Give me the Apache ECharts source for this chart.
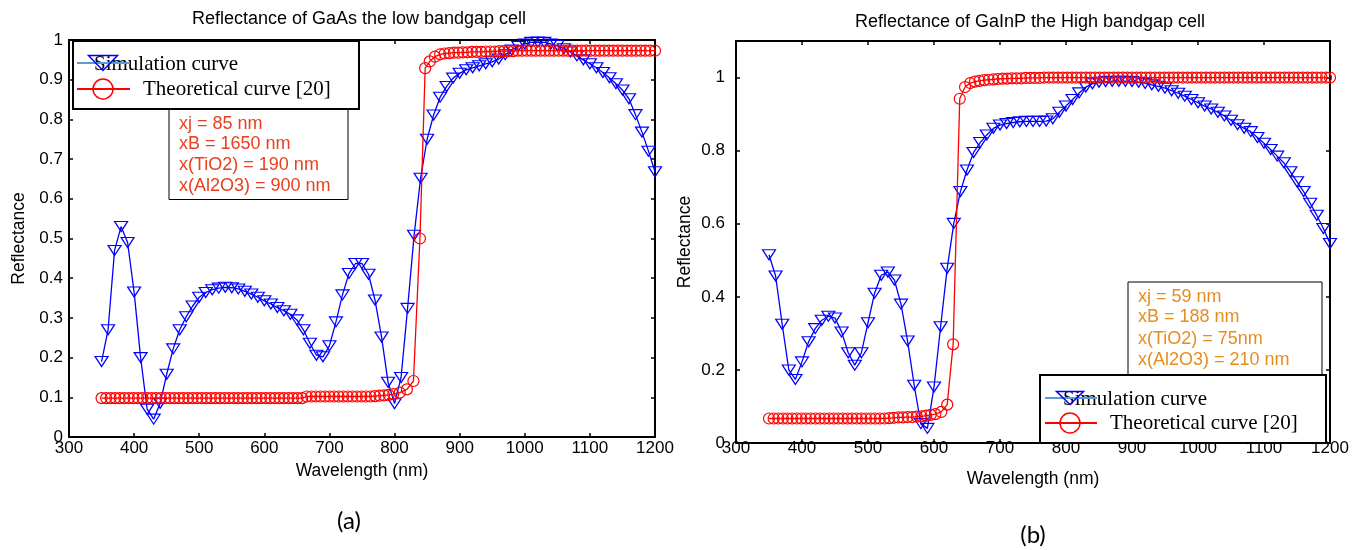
<!DOCTYPE html>
<html>
<head>
<meta charset="utf-8">
<script src="https://cdn.jsdelivr.net/npm/echarts@6/dist/echarts.min.js"></script>
<style>
html,body{margin:0;padding:0;background:#fff;}
#c{width:1363px;height:550px;}
</style>
</head>
<body>
<div id="c"></div>
<script>
// ---------- Panel (a): GaAs ----------
const simA_wl = [350,360,370,380,390,400,410,420,430,440,450,460,470,480,490,500,510,520,530,540,550,560,570,580,590,600,610,620,630,640,650,660,670,680,690,700,710,720,730,740,750,760,770,780,790,800,810,820,830,840,850,860,870,880,890,900,910,920,930,940,950,960,970,980,990,1000,1010,1020,1030,1040,1050,1060,1070,1080,1090,1100,1110,1120,1130,1140,1150,1160,1170,1180,1190,1200];
const simA_val = [0.19,0.27,0.47,0.53,0.49,0.365,0.20,0.07,0.045,0.085,0.158,0.222,0.27,0.303,0.33,0.352,0.364,0.371,0.375,0.377,0.376,0.373,0.367,0.36,0.352,0.343,0.335,0.326,0.318,0.309,0.295,0.27,0.236,0.206,0.202,0.23,0.29,0.358,0.412,0.437,0.437,0.41,0.345,0.252,0.138,0.084,0.15,0.324,0.508,0.652,0.75,0.811,0.856,0.883,0.904,0.916,0.925,0.93,0.935,0.94,0.945,0.952,0.963,0.975,0.984,0.99,0.994,0.995,0.994,0.99,0.986,0.978,0.97,0.96,0.95,0.94,0.93,0.918,0.905,0.89,0.874,0.852,0.812,0.768,0.72,0.668];

const theoA_wl = [350,357,364,371,378,385,392,399,406,413,420,427,434,441,448,455,462,469,476,483,490,497,504,511,518,525,532,539,546,553,560,567,574,581,588,595,602,609,616,623,630,637,644,651,658,665,672,679,686,693,700,707,714,721,728,735,742,749,756,763,770,777,784,791,798,
  808,819,829,839,847,854,862,870,
  877,884,891,898,905,912,919,926,933,940,947,954,961,968,975,982,989,996,1003,1010,1017,1024,1031,1038,1045,1052,1059,1066,1073,1080,1087,1094,1101,1108,1115,1122,1129,1136,1143,1150,1157,1164,1171,1178,1185,1192,1200];
const theoA_val = [0.098,0.098,0.098,0.098,0.098,0.098,0.098,0.098,0.098,0.098,0.098,0.098,0.098,0.098,0.098,0.098,0.098,0.098,0.098,0.098,0.098,0.098,0.098,0.098,0.098,0.098,0.098,0.098,0.098,0.098,0.098,0.098,0.098,0.098,0.098,0.098,0.098,0.098,0.098,0.098,0.098,0.098,0.098,0.098,0.098,
  0.102,0.102,0.102,0.102,0.102,0.102,0.102,0.102,0.102,0.102,0.102,0.102,0.102,0.102,0.102,
  0.103,0.104,0.105,0.106,0.108,
  0.112,0.12,0.141,0.5,0.929,0.946,0.958,0.964,
  0.966,0.967,0.968,0.968,0.969,0.969,0.97,0.97,0.97,0.971,0.971,0.971,0.972,0.972,0.972,0.972,0.973,0.973,
  0.973,0.973,0.973,0.973,0.973,0.973,0.973,0.973,0.973,0.973,0.973,0.973,0.973,0.973,0.973,0.973,0.973,0.973,0.973,0.973,0.973,0.973,0.973,0.973,0.973,0.973,0.973,0.973,
  0.973];

// ---------- Panel (b): GaInP ----------
const simB_wl = [350,360,370,380,390,400,410,420,430,440,450,460,470,480,490,500,510,520,530,540,550,560,570,580,590,600,610,620,630,640,650,660,670,680,690,700,710,720,730,740,750,760,770,780,790,800,810,820,830,840,850,860,870,880,890,900,910,920,930,940,950,960,970,980,990,1000,1010,1020,1030,1040,1050,1060,1070,1080,1090,1100,1110,1120,1130,1140,1150,1160,1170,1180,1190,1200];
const simB_val = [0.515,0.457,0.325,0.2,0.174,0.222,0.277,0.313,0.336,0.347,0.342,0.304,0.247,0.213,0.247,0.329,0.41,0.459,0.468,0.446,0.38,0.279,0.158,0.053,0.04,0.153,0.318,0.478,0.601,0.688,0.747,0.795,0.822,0.843,0.861,0.87,0.874,0.877,0.879,0.88,0.88,0.88,0.881,0.887,0.905,0.922,0.94,0.958,0.974,0.983,0.987,0.989,0.99,0.99,0.99,0.989,0.987,0.984,0.98,0.976,0.971,0.964,0.957,0.949,0.94,0.931,0.922,0.914,0.905,0.895,0.883,0.871,0.861,0.852,0.836,0.82,0.803,0.785,0.767,0.742,0.715,0.688,0.656,0.623,0.587,0.546];

const theoB_wl = [350,357,364,371,378,385,392,399,406,413,420,427,434,441,448,455,462,469,476,483,490,497,504,511,518,525,532,539,546,553,560,567,574,581,588,595,602,
  611,620,629,639,647,655,662,
  669,676,683,690,697,704,711,718,725,732,739,746,753,760,
  767,774,781,788,795,802,809,816,823,830,837,844,851,858,865,872,879,886,893,900,907,914,921,928,935,942,949,956,963,970,977,984,991,998,1005,1012,1019,1026,1033,1040,1047,1054,1061,1068,1075,1082,1089,1096,1103,1110,1117,1124,1131,1138,1145,1152,1159,1166,1173,1180,1187,1194,1200];
const theoB_val = [0.067,0.067,0.067,0.067,0.067,0.067,0.067,0.067,0.067,0.067,0.067,0.067,0.067,0.067,0.067,0.067,0.067,0.067,0.067,0.067,0.067,0.067,0.067,0.067,0.067,0.067,
  0.068,0.069,0.07,0.07,0.071,0.071,
  0.072,0.073,0.075,0.077,0.079,
  0.085,0.105,0.27,0.942,0.974,0.985,0.989,
  0.991,0.993,0.994,0.995,0.996,0.997,0.997,0.998,0.998,0.998,0.999,0.999,0.999,0.999,
  1,1,1,1,1,1,1,1,1,1,1,1,1,1,1,1,1,1,1,1,1,1,1,1,1,1,1,1,1,1,1,1,1,1,1,1,1,1,1,1,1,1,1,1,1,1,1,1,1,1,1,1,1,1,1,1,1,1,1,1,1,1,
  1];

const xTicks = {min: 300, max: 1200, interval: 100};
const titles = ['Reflectance of GaAs the low bandgap cell', 'Reflectance of GaInP the High bandgap cell'];
const legendNames = ['Simulation curve', 'Theoretical curve [20]'];
const notesA = ['xj = 85 nm', 'xB = 1650 nm', 'x(TiO2) = 190 nm', 'x(Al2O3) = 900 nm'];
const notesB = ['xj = 59 nm', 'xB = 188 nm', 'x(TiO2) = 75nm', 'x(Al2O3) = 210 nm'];

function pairs(xs, ys) {
  if (xs.length !== ys.length) console.error('length mismatch', xs.length, ys.length);
  return xs.map((x, i) => [x, ys[i]]);
}

const SANS = '"Liberation Sans", Arial, sans-serif';
const SERIF = '"Liberation Serif", "Times New Roman", serif';
const BLUE = '#0000ff', RED = '#ff0000';

function xAx(gi, pos, labels, margin, nameGap) {
  return {
    type: 'value', gridIndex: gi, position: pos, min: xTicks.min, max: xTicks.max, interval: xTicks.interval,
    axisLine: {show: true, onZero: false, lineStyle: {color: '#000', width: 2}},
    axisTick: {show: true, inside: true, length: 4, lineStyle: {color: '#000', width: 1.5}},
    axisLabel: {show: labels, margin: margin, color: '#000', fontSize: 17, fontFamily: SANS,
      formatter: function (v) { return String(Math.round(v)); }},
    splitLine: {show: false},
    name: labels ? 'Wavelength (nm)' : '', nameLocation: 'middle', nameGap: nameGap,
    nameTextStyle: {color: '#000', fontSize: 17.5, fontFamily: SANS}
  };
}
function yAx(gi, pos, labels, max, interval, margin, nameGap) {
  return {
    type: 'value', gridIndex: gi, position: pos, min: 0, max: max, interval: interval,
    axisLine: {show: true, onZero: false, lineStyle: {color: '#000', width: 2}},
    axisTick: {show: true, inside: true, length: 4, lineStyle: {color: '#000', width: 1.5}},
    axisLabel: {show: labels, margin: margin, color: '#000', fontSize: 17, fontFamily: SANS,
      formatter: function (v) { return v > 1.05 ? '' : String(Math.round(v * 10) / 10); }},
    splitLine: {show: false},
    name: labels ? 'Reflectance' : '', nameLocation: 'middle', nameGap: nameGap,
    nameTextStyle: {color: '#000', fontSize: 17.5, fontFamily: SANS}
  };
}
function simSeries(xi, yi, data) {
  return {
    type: 'line', xAxisIndex: xi, yAxisIndex: yi, data: data, clip: false, z: 2,
    symbol: 'triangle', symbolRotate: 180, symbolSize: [13, 10], showAllSymbol: true,
    itemStyle: {color: 'rgba(0,0,0,0)', borderColor: BLUE, borderWidth: 1.2},
    lineStyle: {color: BLUE, width: 1.3}, animation: false, emphasis: {disabled: true}
  };
}
function theoSeries(xi, yi, data) {
  return {
    type: 'line', xAxisIndex: xi, yAxisIndex: yi, data: data, clip: false, z: 3,
    symbol: 'circle', symbolSize: 11, showAllSymbol: true,
    itemStyle: {color: 'rgba(0,0,0,0)', borderColor: RED, borderWidth: 1.2},
    lineStyle: {color: RED, width: 1.3}, animation: false, emphasis: {disabled: true}
  };
}

function txt(text, x, y, font, fill, align) {
  return {type: 'text', z: 100, style: {text: text, x: x, y: y, font: font, fill: fill, align: align || 'left', verticalAlign: 'middle'}};
}
function notes(lines, x, ys, color) {
  return lines.map((t, i) => txt(t, x, ys[i], '18px ' + SANS, color));
}
function legend(bx, by, bw, bh, lx1, lx2, mx, y1, y2, tx1, tx2, triW, triH) {
  return [
    {type: 'rect', z: 100, shape: {x: bx, y: by, width: bw, height: bh}, style: {fill: '#fff', stroke: '#000', lineWidth: 2}},
    txt(legendNames[0], tx1, y1 + 1, '21px ' + SERIF, '#000'),
    {type: 'line', z: 101, shape: {x1: lx1, y1: y1, x2: lx2, y2: y1}, style: {stroke: '#5b9bd5', lineWidth: 2}},
    {type: 'polygon', z: 101, shape: {points: [[mx - triW / 2, y1 - triH / 2], [mx + triW / 2, y1 - triH / 2], [mx, y1 + triH / 2]]}, style: {fill: 'none', stroke: BLUE, lineWidth: 1.5}},
    txt(legendNames[1], tx2, y2, '21px ' + SERIF, '#000'),
    {type: 'line', z: 101, shape: {x1: lx1, y1: y2, x2: lx2, y2: y2}, style: {stroke: RED, lineWidth: 2}},
    {type: 'circle', z: 101, shape: {cx: mx, cy: y2, r: 10}, style: {fill: 'none', stroke: RED, lineWidth: 1.5}}
  ];
}

const chart = echarts.init(document.getElementById('c'), null, {renderer: 'canvas'});
const option = {
  backgroundColor: '#fff',
  animation: false,
  title: [
    {text: titles[0], left: 354, top: 5, textAlign: 'center', textStyle: {fontSize: 18, fontWeight: 'normal', fontFamily: SANS, color: '#000'}},
    {text: titles[1], left: 1025, top: 8, textAlign: 'center', textStyle: {fontSize: 18, fontWeight: 'normal', fontFamily: SANS, color: '#000'}}
  ],
  grid: [
    {left: 69, top: 40, width: 586, height: 397, containLabel: false},
    {left: 736, top: 41, width: 594, height: 402, containLabel: false}
  ],
  xAxis: [
    xAx(0, 'bottom', true, 3, 25),
    xAx(0, 'top', false, 3, 0),
    xAx(1, 'bottom', true, -3, 27),
    xAx(1, 'top', false, 3, 0)
  ],
  yAxis: [
    yAx(0, 'left', true, 1, 0.1, 6, 41),
    yAx(0, 'right', false, 1, 0.1, 6, 0),
    yAx(1, 'left', true, 1.1, 0.2, 11, 42),
    yAx(1, 'right', false, 1.1, 0.2, 11, 0)
  ],
  series: [
    simSeries(0, 0, pairs(simA_wl, simA_val)),
    theoSeries(0, 0, pairs(theoA_wl, theoA_val)),
    simSeries(2, 2, pairs(simB_wl, simB_val)),
    theoSeries(2, 2, pairs(theoB_wl, theoB_val))
  ],
  graphic: [].concat(
    [{type: 'rect', z: 100, shape: {x: 169, y: 100, width: 179, height: 99.5}, style: {fill: '#fff', stroke: '#000', lineWidth: 1}}],
    notes(notesA, 179, [124, 144.5, 165.5, 186.5], '#e8401e'),
    legend(73, 41, 286, 68, 77, 130, 103, 63, 89, 94, 143, 29, 15),
    [{type: 'rect', z: 100, shape: {x: 1128, y: 282, width: 194, height: 100}, style: {fill: '#fff', stroke: '#000', lineWidth: 1}}],
    notes(notesB, 1138, [297, 317.5, 339, 360], '#e88c1e'),
    legend(1040, 375, 286, 68, 1045, 1097, 1070, 398, 423, 1063, 1110, 27, 13),
    [txt('(a)', 349, 521, '24px Lato, "Open Sans", sans-serif', '#000', 'center'),
     txt('(b)', 1033, 535, '24px Lato, "Open Sans", sans-serif', '#000', 'center')]
  )
};
chart.setOption(option);
</script>
</body>
</html>
